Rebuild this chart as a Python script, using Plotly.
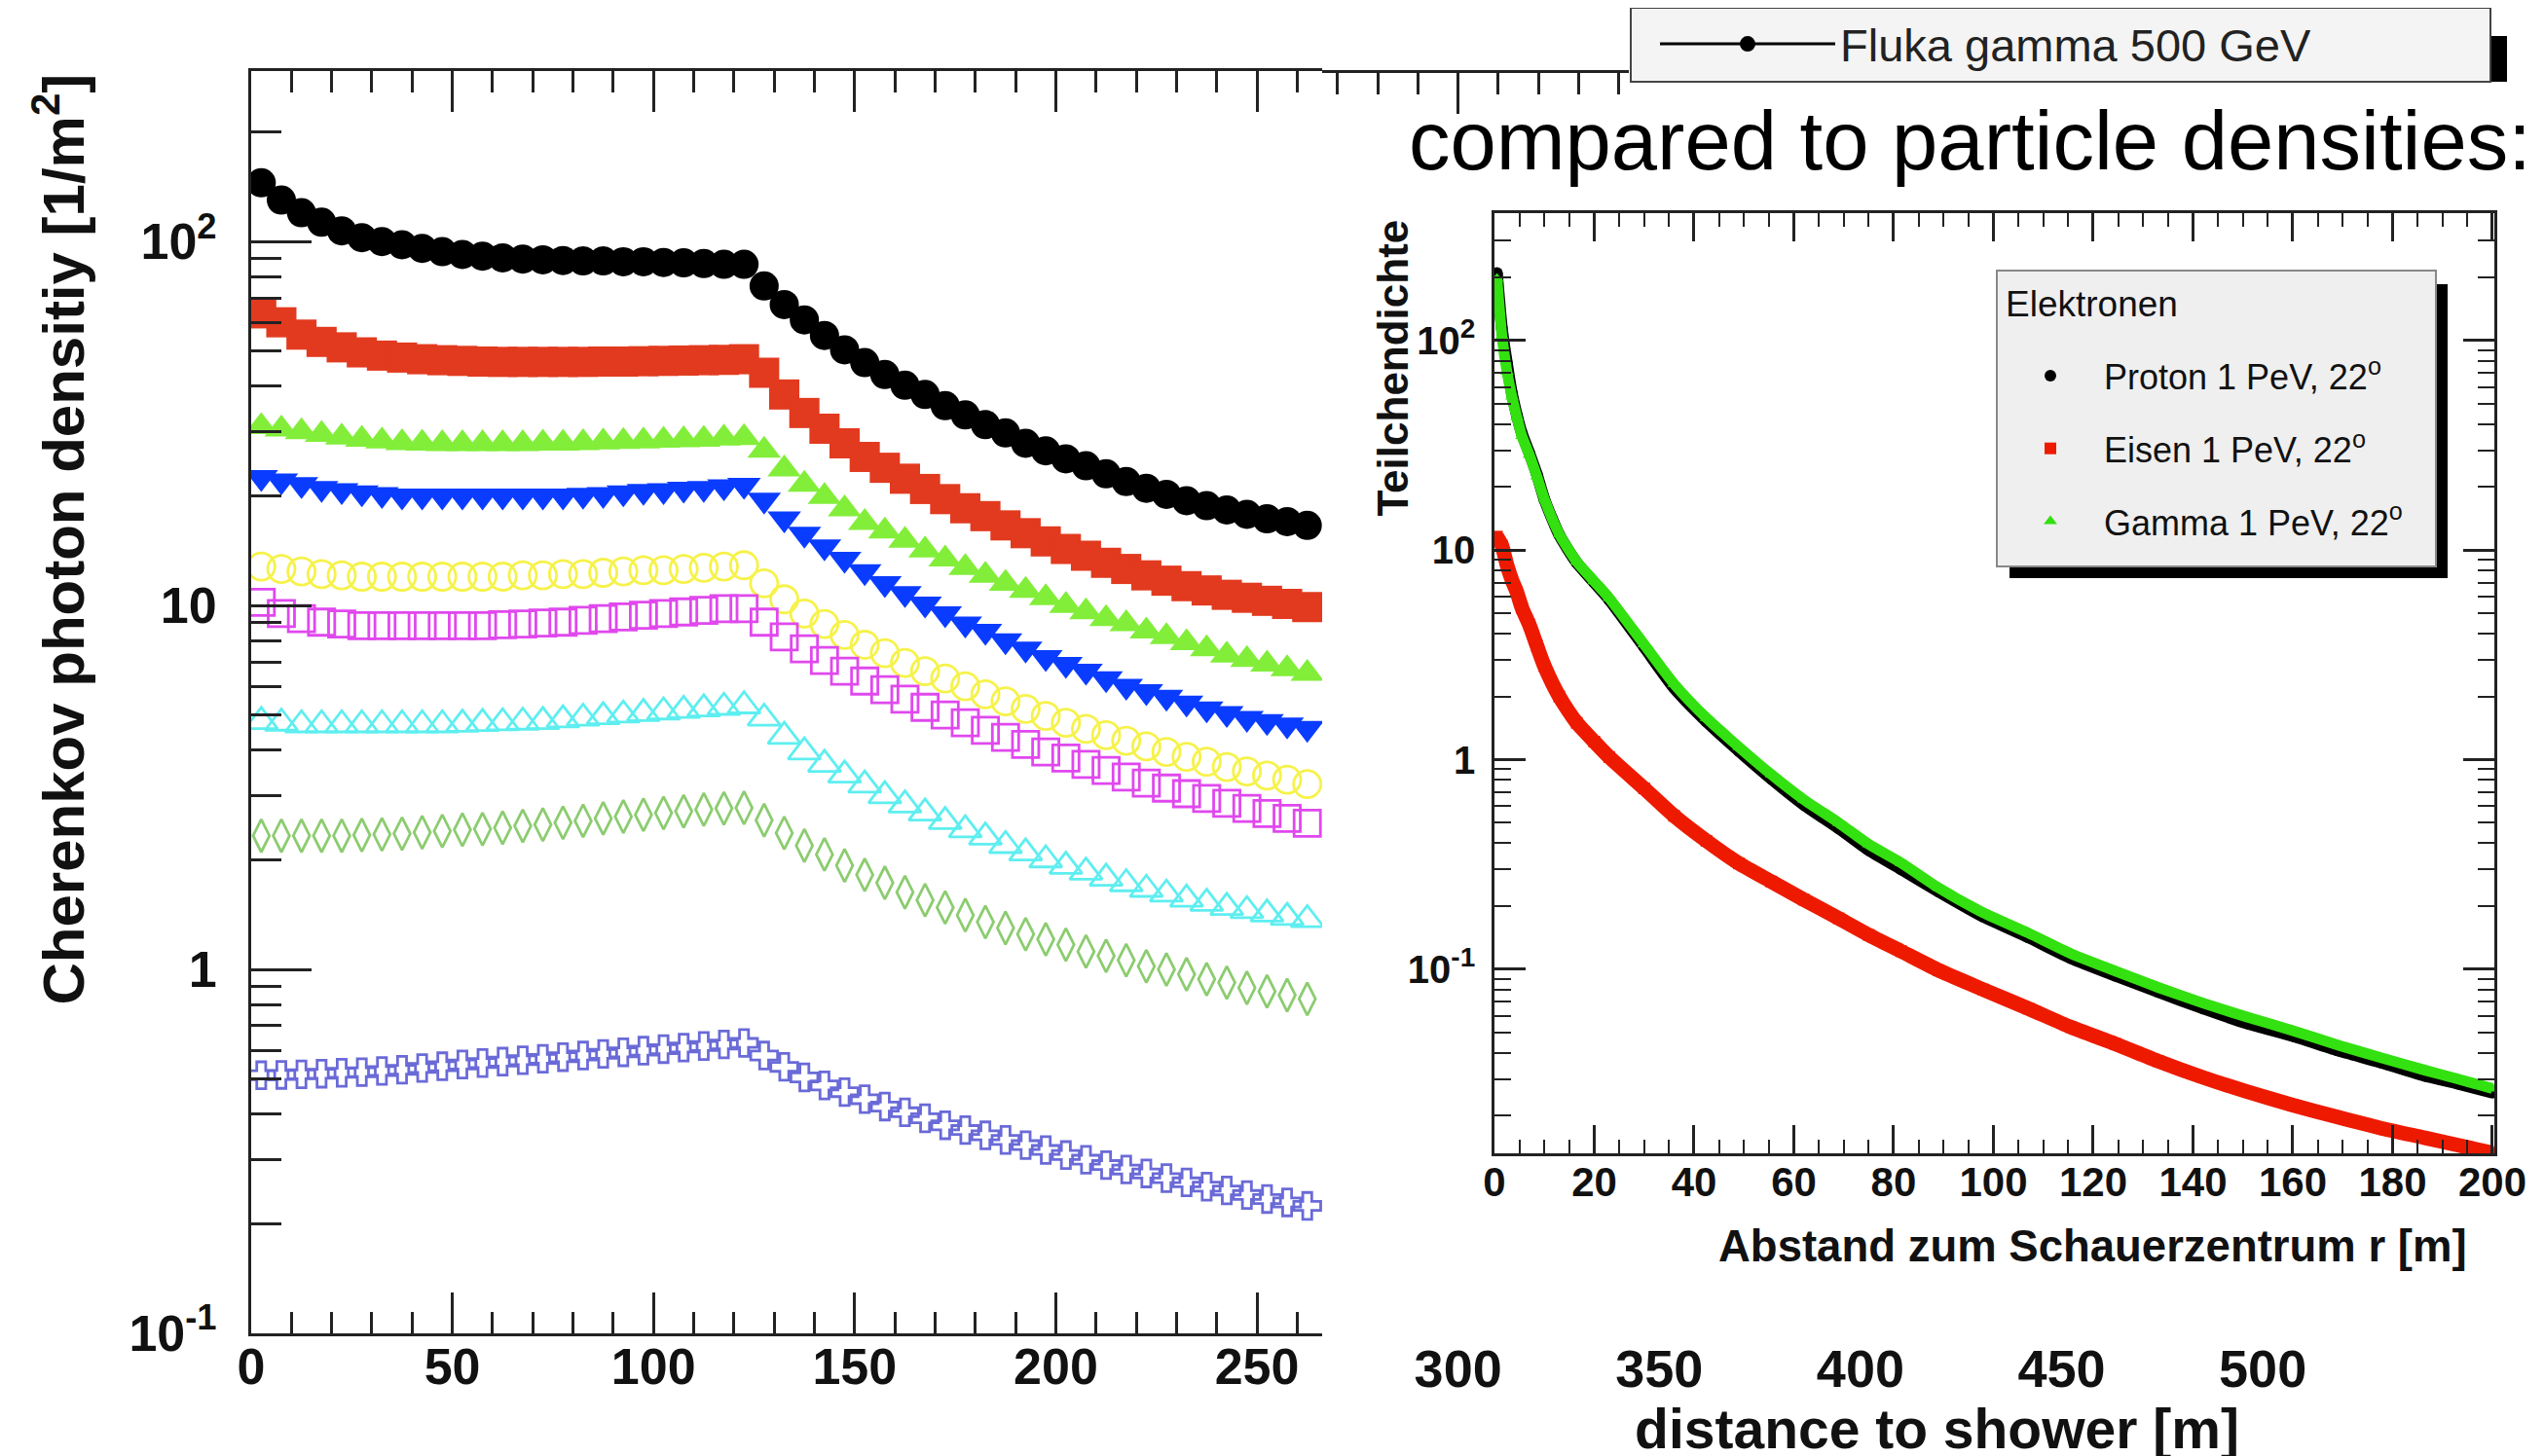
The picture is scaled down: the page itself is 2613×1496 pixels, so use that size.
import plotly.graph_objects as go

W, H = 2613, 1496
OFF = 8  # the page body margin shifts the figure by 8 px; compensate


def px(x):
    return (x - OFF) / W


def py(y):
    return 1 - (y - OFF) / H


FONT = "Liberation Sans, Arial, Helvetica, sans-serif"

# ---------------- left chart: Cherenkov photon density ----------------
distance = [2.5, 7.5, 12.5, 17.5, 22.5, 27.5, 32.5, 37.5, 42.5, 47.5,
            52.5, 57.5, 62.5, 67.5, 72.5, 77.5, 82.5, 87.5, 92.5, 97.5,
            102.5, 107.5, 112.5, 117.5, 122.5, 127.5, 132.5, 137.5, 142.5, 147.5,
            152.5, 157.5, 162.5, 167.5, 172.5, 177.5, 182.5, 187.5, 192.5, 197.5,
            202.5, 207.5, 212.5, 217.5, 222.5, 227.5, 232.5, 237.5, 242.5, 247.5,
            252.5, 257.5, 262.5]

black_circles = [145, 130, 120, 113, 107, 102.5, 100, 98, 95.8, 93.8, 92.2, 91.2, 90.2, 89.5, 89.1,
                 88.7, 88.5, 88.5, 88, 88, 87.6, 87.4, 87, 86.6, 86.6,
                 75.5, 67.1, 60.9, 55.2, 50.4, 46.5, 43.1, 40.3, 38, 35.4, 33.4, 31.4, 29.8, 27.9,
                 26.6, 25.3, 24.2, 23, 21.9, 21, 20.2, 19.4, 18.8, 18.3, 17.8, 17.3, 17, 16.6]
red_squares = [63.5, 60, 55.5, 53, 51.2, 49.6, 48.6, 48, 47.5, 47.2, 47, 46.8, 46.7, 46.7, 46.7,
               46.7, 46.7, 46.8, 46.8, 46.9, 47, 47.1, 47.2, 47.3, 47.5,
               43.6, 38, 33.8, 30.6, 27.9, 25.6, 23.9, 22.3, 20.9, 19.6, 18.5, 17.6, 16.6, 15.8,
               15, 14.3, 13.7, 13.1, 12.6, 12.1, 11.7, 11.3, 11.0, 10.7, 10.5, 10.3, 10.1, 9.9]
green_triangles = [31, 30.5, 30, 29.5, 29, 28.6, 28.3, 28, 27.9, 27.8, 27.8, 27.8, 27.8, 27.8, 27.9,
                   27.9, 28, 28.1, 28.2, 28.3, 28.4, 28.5, 28.6, 28.8, 28.9,
                   26.7, 23.7, 21.5, 19.9, 18.4, 16.9, 16.0, 15.1, 14.2, 13.4, 12.7, 12.1, 11.5, 11.0,
                   10.5, 10.0, 9.6, 9.2, 8.9, 8.5, 8.2, 7.9, 7.6, 7.3, 7.1, 6.9, 6.7, 6.5]
blue_triangles = [22.5, 22, 21.5, 21, 20.7, 20.4, 20.2, 20, 20, 20, 20, 20, 20, 20, 20,
                  20, 20.1, 20.2, 20.4, 20.6, 20.7, 20.9, 21, 21.2, 21.4,
                  19.5, 17.3, 15.7, 14.5, 13.4, 12.4, 11.5, 10.8, 10.1, 9.5, 8.9, 8.5, 8.0, 7.6,
                  7.2, 6.9, 6.6, 6.3, 6.0, 5.8, 5.6, 5.4, 5.2, 5.05, 4.9, 4.8, 4.7, 4.6]
yellow_circles = [12.8, 12.6, 12.4, 12.2, 12.1, 12, 12, 12, 12, 12, 12, 12, 12, 12.1, 12.1,
                  12.2, 12.2, 12.3, 12.4, 12.5, 12.5, 12.6, 12.7, 12.8, 12.9,
                  11.5, 10.4, 9.5, 8.9, 8.3, 7.8, 7.4, 6.95, 6.6, 6.3, 6.0, 5.7, 5.45, 5.2,
                  4.97, 4.76, 4.58, 4.4, 4.25, 4.1, 3.96, 3.84, 3.72, 3.6, 3.5, 3.41, 3.32, 3.23]
magenta_squares = [10.2, 9.5, 9.2, 9.0, 8.9, 8.8, 8.8, 8.8, 8.8, 8.8, 8.8, 8.8, 8.85, 8.9, 8.95,
                   9.0, 9.1, 9.2, 9.3, 9.4, 9.5, 9.6, 9.7, 9.8, 9.8,
                   9.0, 8.2, 7.6, 7.06, 6.6, 6.2, 5.87, 5.53, 5.25, 5.0, 4.76, 4.54, 4.34, 4.15,
                   3.96, 3.81, 3.66, 3.52, 3.38, 3.25, 3.15, 3.04, 2.95, 2.86, 2.77, 2.68, 2.6, 2.52]
cyan_triangles = [4.8, 4.75, 4.7, 4.7, 4.7, 4.7, 4.7, 4.7, 4.7, 4.7, 4.72, 4.74, 4.76, 4.78, 4.8,
                  4.85, 4.9, 4.95, 5.0, 5.05, 5.1, 5.15, 5.2, 5.25, 5.3,
                  4.9, 4.37, 3.96, 3.66, 3.42, 3.21, 3.0, 2.83, 2.69, 2.55, 2.42, 2.31, 2.19, 2.09,
                  2.0, 1.92, 1.85, 1.78, 1.72, 1.66, 1.61, 1.56, 1.52, 1.48, 1.45, 1.42, 1.39, 1.37]
green_diamonds = [2.33, 2.33, 2.33, 2.33, 2.33, 2.34, 2.35, 2.36, 2.38, 2.4, 2.42, 2.43, 2.45, 2.48, 2.5,
                  2.53, 2.56, 2.6, 2.63, 2.66, 2.69, 2.72, 2.75, 2.77, 2.78,
                  2.57, 2.37, 2.19, 2.07, 1.93, 1.82, 1.73, 1.63, 1.55, 1.48, 1.41, 1.35, 1.30, 1.25,
                  1.21, 1.17, 1.12, 1.09, 1.06, 1.02, 1.0, 0.97, 0.94, 0.92, 0.89, 0.87, 0.85, 0.83]
blue_crosses = [0.512, 0.513, 0.515, 0.517, 0.52, 0.522, 0.526, 0.53, 0.536, 0.542, 0.548, 0.553, 0.558,
                0.563, 0.568, 0.574, 0.58, 0.586, 0.592, 0.598, 0.604, 0.61, 0.616, 0.622, 0.628,
                0.58, 0.54, 0.505, 0.48, 0.46, 0.44, 0.42, 0.405, 0.39, 0.373, 0.362, 0.35, 0.34, 0.329,
                0.319, 0.309, 0.3, 0.29, 0.282, 0.275, 0.267, 0.26, 0.253, 0.247, 0.24, 0.234, 0.229, 0.224]

left_y_ticks = [0.1, 1, 10, 100]
left_y_text = ["10<sup>-1</sup>", "1", "10", "10<sup>2</sup>"]
left_x_ticks = [0, 50, 100, 150, 200, 250]
left_x_ticks_hidden_part = [300, 350, 400, 450, 500]

# ---------------- inset: particle densities ----------------
r_inset = [0.5, 1.5, 2.5, 3.5, 4.5, 5.5, 7, 8.5, 10, 13, 16.5, 20, 23, 30, 36, 42.5, 49, 55.5,
           62, 69, 75, 81.5, 89, 98, 107, 115.5, 124.5, 133, 142, 151, 160, 169, 177.5, 186.5, 193, 200]
proton = [210, 114, 78, 56, 44, 36, 29, 23, 17.5, 11.8, 8.7, 7.0, 5.8, 3.45, 2.2, 1.52, 1.1, 0.81,
          0.61, 0.47, 0.37, 0.30, 0.235, 0.178, 0.142, 0.113, 0.093, 0.078, 0.065, 0.055, 0.048,
          0.041, 0.036, 0.031, 0.0285, 0.0258]
gamma = [197, 105, 71, 54, 43, 35, 28.5, 22.5, 17.5, 11.9, 8.8, 7.1, 5.9, 3.55, 2.3, 1.58, 1.15, 0.85,
         0.645, 0.5, 0.395, 0.322, 0.245, 0.186, 0.149, 0.119, 0.098, 0.082, 0.069, 0.059, 0.051,
         0.0435, 0.038, 0.033, 0.030, 0.027]
eisen = [11.6, 10.5, 8.5, 7.2, 6.3, 5.3, 4.4, 3.5, 2.8, 2.0, 1.5, 1.22, 1.03, 0.73, 0.54, 0.41, 0.32,
         0.262, 0.215, 0.175, 0.146, 0.122, 0.099, 0.080, 0.065, 0.053, 0.044, 0.0365, 0.0305, 0.026,
         0.0225, 0.0197, 0.0175, 0.0157, 0.0145, 0.0133]
inset_x_ticks = [0, 20, 40, 60, 80, 100, 120, 140, 160, 180, 200]
inset_y_ticks = [0.1, 1, 10, 100]
inset_y_text = ["10<sup>-1</sup>", "1", "10", "10<sup>2</sup>"]

fig = go.Figure()

left_series = [
    ("Fluka gamma 500 GeV", black_circles, "circle", 30, "#000000"),
    ("Fluka gamma 300 GeV", red_squares, "square", 31, "#e23a1f"),
    ("series 3", green_triangles, "triangle-up", 30, "#82ee3a"),
    ("series 4", blue_triangles, "triangle-down", 30, "#0a3cff"),
    ("series 5", yellow_circles, "circle-open", 28, "#f6f24a"),
    ("series 6", magenta_squares, "square-open", 27, "#e048ee"),
    ("series 7", cyan_triangles, "triangle-up-open", 29, "#5eeef0"),
    ("series 8", green_diamonds, "diamond-tall-open", 24, "#8ccc70"),
    ("series 9", blue_crosses, "cross-open", 23, "#6a6ad8"),
]
for name, vals, sym, size, col in left_series:
    is_open = sym.endswith("open")
    fig.add_trace(go.Scatter(
        x=distance, y=vals, mode="markers", name=name, showlegend=False,
        xaxis="x", yaxis="y", cliponaxis=True,
        marker=dict(symbol=sym, size=size, color=col,
                    line=dict(color=col, width=2.8 if is_open else 0)),
    ))

# empty traces so the continuation axes of the left chart get drawn
fig.add_trace(go.Scatter(x=[], y=[], xaxis="x3", yaxis="y", showlegend=False, hoverinfo="skip"))
fig.add_trace(go.Scatter(x=[], y=[], xaxis="x4", yaxis="y", showlegend=False, hoverinfo="skip"))

# legend entry of the (mostly hidden) left-chart legend
fig.add_trace(go.Scatter(
    x=[None], y=[None], mode="lines+markers", name="Fluka gamma 500 GeV",
    xaxis="x", yaxis="y", legend="legend", showlegend=True,
    line=dict(color="#000000", width=3),
    marker=dict(symbol="circle", size=16, color="#000000"),
))

# inset traces: band (line) + markers
inset_series = [
    ("Eisen 1 PeV, 22<sup>o</sup>", eisen, "square", "#ee1a00", 15, 2),
    ("Proton 1 PeV, 22<sup>o</sup>", proton, "circle", "#000000", 12, 1),
    ("Gamma 1 PeV, 22<sup>o</sup>", gamma, "triangle-up", "#33e010", 11, 3),
]
for name, vals, sym, col, lw, rank in inset_series:
    fig.add_trace(go.Scatter(
        x=r_inset, y=vals, mode="lines", showlegend=False, xaxis="x2", yaxis="y2",
        line=dict(color=col, width=lw, shape="spline", smoothing=0.6), hoverinfo="skip",
    ))
    fig.add_trace(go.Scatter(
        x=r_inset, y=vals, mode="markers", name=name, xaxis="x2", yaxis="y2",
        legend="legend2", legendgroup=name, legendrank=rank, showlegend=True,
        marker=dict(symbol=sym, size=12, color=col),
    ))

axc = dict(showgrid=False, zeroline=False, ticks="inside", linecolor="#222222",
           tickcolor="#222222", showline=True, automargin=False)

left_minor_y = [0.2, 0.3, 0.4, 0.5, 0.6, 0.7, 0.8, 0.9, 2, 3, 4, 5, 6, 7, 8, 9,
                20, 30, 40, 50, 60, 70, 80, 90, 200]
inset_minor_y = [0.02, 0.03, 0.04, 0.05, 0.06, 0.07, 0.08, 0.09, 0.2, 0.3, 0.4, 0.5, 0.6, 0.7,
                 0.8, 0.9, 2, 3, 4, 5, 6, 7, 8, 9, 20, 30, 40, 50, 60, 70, 80, 90, 200, 300]

px_per_m = (1358 - 258) / 266.2
x_end_main = 266.2
BOLD = dict(family=FONT, weight="bold", color="#111111")

fig.update_layout(
    width=W, height=H, autosize=False,
    margin=dict(l=0, r=0, t=0, b=0, pad=0),
    paper_bgcolor="white", plot_bgcolor="rgba(0,0,0,0)",
    font=dict(family=FONT, color="#111111"),
    xaxis=dict(**axc, domain=[px(258), px(1358)], range=[0, x_end_main], anchor="y",
               mirror="ticks", linewidth=3, tickwidth=3, ticklen=42,
               tickmode="array", tickvals=left_x_ticks,
               minor=dict(tickmode="linear", tick0=0, dtick=10, ticklen=22, ticks="inside",
                          tickcolor="#222222", tickwidth=2.5),
               tickfont=dict(**BOLD, size=52), ticklabelstandoff=-13),
    xaxis3=dict(showgrid=False, zeroline=False, showline=False, ticks="", automargin=False,
                domain=[px(1358), 1.0],
                range=[x_end_main, x_end_main + (W + OFF - 1358) / px_per_m], anchor="y",
                tickmode="array", tickvals=left_x_ticks_hidden_part,
                tickfont=dict(**BOLD, size=54), ticklabelstandoff=0,
                title=dict(text="distance to shower [m]", standoff=0,
                           font=dict(**BOLD, size=57))),
    xaxis4=dict(**axc, domain=[px(1358), px(1673)],
                range=[x_end_main, x_end_main + (1673 - 1358) / px_per_m],
                anchor="free", position=py(73), side="top", linewidth=3, tickwidth=3, ticklen=42,
                tickmode="array", tickvals=[300], showticklabels=False,
                minor=dict(tickmode="linear", tick0=0, dtick=10, ticklen=22, ticks="inside",
                           tickcolor="#222222", tickwidth=2.5)),
    yaxis=dict(**axc, type="log", domain=[py(1370), py(73)], range=[-1, 2.4685], anchor="x",
               linewidth=3, tickwidth=3, ticklen=62,
               tickmode="array", tickvals=left_y_ticks, ticktext=left_y_text,
               minor=dict(tickmode="array", tickvals=left_minor_y, ticklen=31, ticks="inside",
                          tickcolor="#222222", tickwidth=2.5),
               tickfont=dict(**BOLD, size=52), ticklabelstandoff=22),
    xaxis2=dict(**axc, domain=[px(1535), px(2562)], range=[0, 200.4], anchor="y2",
                mirror="ticks", linewidth=2.5, tickwidth=2.5, ticklen=29,
                tickmode="array", tickvals=inset_x_ticks,
                minor=dict(tickmode="linear", tick0=0, dtick=5, ticklen=14, ticks="inside",
                           tickcolor="#222222", tickwidth=2),
                tickfont=dict(**BOLD, size=42), ticklabelstandoff=-9),
    yaxis2=dict(**axc, type="log", domain=[py(1185), py(219)], range=[-1.878, 2.608], anchor="x2",
                mirror="ticks", linewidth=2.5, tickwidth=2.5, ticklen=32,
                tickmode="array", tickvals=inset_y_ticks, ticktext=inset_y_text,
                minor=dict(tickmode="array", tickvals=inset_minor_y, ticklen=17, ticks="inside",
                           tickcolor="#222222", tickwidth=2),
                tickfont=dict(**BOLD, size=40), ticklabelstandoff=9),
    legend=dict(x=px(1700), y=1.0, xanchor="left", yanchor="top",
                bgcolor="rgba(0,0,0,0)", borderwidth=0, itemwidth=180,
                font=dict(family=FONT, size=47, color="#222222")),
    legend2=dict(x=px(2051), y=py(356), xanchor="left", yanchor="top",
                 bgcolor="rgba(0,0,0,0)", borderwidth=0,
                 traceorder="grouped", tracegroupgap=25, itemwidth=100,
                 font=dict(family=FONT, size=36, color="#111111")),
    showlegend=True,
)

# legend frames (drawn as boxes with ROOT-like shadows)
fig.add_shape(type="rect", xref="paper", yref="paper", x0=px(1690), x1=px(2575),
              y0=py(84), y1=py(37), fillcolor="#000000", line=dict(width=0), layer="above")
fig.add_shape(type="rect", xref="paper", yref="paper", x0=px(1675), x1=px(2558),
              y0=py(84), y1=py(8), fillcolor="#f4f4f4", line=dict(color="#444444", width=2),
              layer="above")
fig.add_shape(type="rect", xref="paper", yref="paper", x0=px(2064), x1=px(2514),
              y0=py(594), y1=py(292), fillcolor="#000000", line=dict(width=0), layer="above")
fig.add_shape(type="rect", xref="paper", yref="paper", x0=px(2051), x1=px(2502),
              y0=py(582), y1=py(278), fillcolor="#efefef", line=dict(color="#888888", width=2),
              layer="above")

# titles and texts
fig.add_annotation(text="Cherenkov photon densitiy [1/m<sup>2</sup>]", textangle=-90,
                   xref="paper", yref="paper", x=px(61), y=py(74), xanchor="center", yanchor="top",
                   showarrow=False, font=dict(**BOLD, size=60))
fig.add_annotation(text="Teilchendichte", textangle=-90,
                   xref="paper", yref="paper", x=px(1430), y=py(224), xanchor="center", yanchor="top",
                   showarrow=False, font=dict(**BOLD, size=44))
fig.add_annotation(text="Abstand zum Schauerzentrum r [m]",
                   xref="paper", yref="paper", x=px(2536), y=py(1280), xanchor="right", yanchor="middle",
                   showarrow=False, font=dict(**BOLD, size=45.5))
fig.add_annotation(text="compared to particle densities:",
                   xref="paper", yref="paper", x=px(1445), y=py(145), xanchor="left", yanchor="middle",
                   showarrow=False, font=dict(family=FONT, size=85, color="#000000"))
fig.add_annotation(text="Elektronen",
                   xref="paper", yref="paper", x=px(2058), y=py(312), xanchor="left", yanchor="middle",
                   showarrow=False, font=dict(family=FONT, size=37, color="#111111"))

fig.write_html("out.html")
